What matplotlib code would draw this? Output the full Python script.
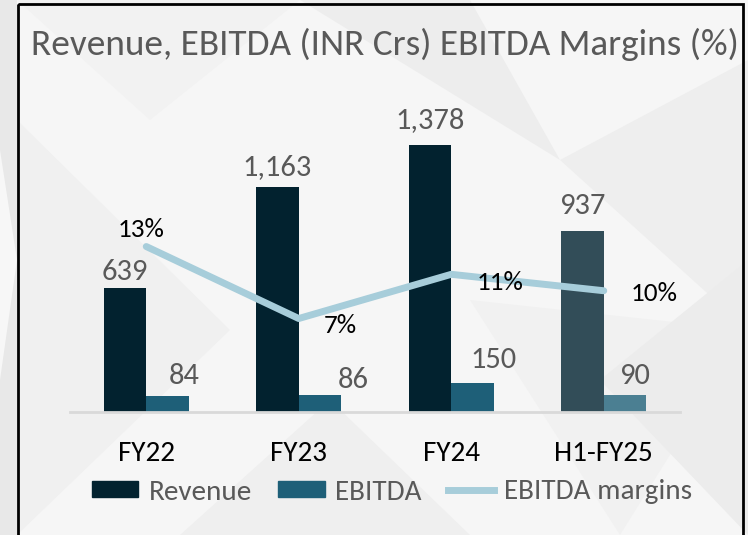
import matplotlib
matplotlib.use("Agg")
import matplotlib.pyplot as plt
from matplotlib import font_manager
from matplotlib.patches import Polygon, Rectangle, Patch
from matplotlib.lines import Line2D
import numpy as np

# data
periods = ["FY22", "FY23", "FY24", "H1-FY25"]
revenue = [639, 1163, 1378, 937]
ebitda = [84, 86, 150, 90]
margins = [13.1, 7.4, 10.9, 9.6]   # EBITDA / Revenue, shown rounded
revenue_text = ["639", "1,163", "1,378", "937"]
ebitda_text = ["84", "86", "150", "90"]
margin_text = ["13%", "7%", "11%", "10%"]

# pick a calibri-like font that is installed
installed = {f.name for f in font_manager.fontManager.ttflist}
fam = "DejaVu Sans"
for cand in ["Carlito", "Liberation Sans Narrow", "Lato", "Open Sans"]:
    if cand in installed:
        fam = cand
        break
plt.rcParams["font.family"] = [fam, "DejaVu Sans"]

W, H = 748, 535
fig = plt.figure(figsize=(W / 100, H / 100), dpi=100)
fig.patch.set_facecolor("#f6f6f6")

def px(x, y):
    return (x / W, 1 - y / H)

# background with a faint triangle pattern, in pixel coordinates
bg = fig.add_axes([0, 0, 1, 1], zorder=-1)
bg.set_xlim(0, W)
bg.set_ylim(H, 0)
bg.axis("off")
tris = [
    ([(17, 120), (230, 330), (17, 535)], "#f0f0f0"),
    ([(300, 0), (470, 0), (560, 160)], "#ededed"),
    ([(560, 160), (748, 60), (748, 330)], "#eeeeee"),
    ([(470, 300), (748, 330), (620, 535)], "#f1f1f1"),
    ([(180, 535), (330, 400), (470, 535)], "#efefef"),
    ([(17, 0), (300, 0), (150, 120)], "#f2f2f2"),
    ([(600, 380), (748, 260), (748, 535)], "#ececec"),
    ([(0, 0), (17, 0), (17, 535), (0, 535)], "#e8e8e8"),
    ([(0, 150), (17, 260), (0, 380)], "#f7f7f7"),
]
for pts, col in tris:
    bg.add_patch(Polygon(pts, closed=True, facecolor=col, edgecolor="none"))
bg.add_patch(Rectangle((18, 4), 725, 560, fill=False, edgecolor="black", linewidth=2))

ax = fig.add_axes([70 / W, 1 - 412 / H, 610 / W, 312 / H])
ax.patch.set_alpha(0)
ax2 = ax.twinx()

x = np.arange(len(periods))
bw = 0.28
rev_cols = ["#02222f", "#02222f", "#02222f", "#324d58"]
ebi_cols = ["#1e5f78", "#1e5f78", "#1e5f78", "#4b7f92"]
ax.bar(x - bw / 2, revenue, bw, color=rev_cols, zorder=2)
ax.bar(x + bw / 2, ebitda, bw, color=ebi_cols, zorder=2)
ax.set_xlim(-0.5, 3.5)
ax.set_ylim(0, 1611)

# nudges of the labels as placed on the slide (points)
rev_dy = [2, 5, 9, 8]
ebi_dx = [12, 24, 15, 7]
ebi_dy = [5, 2, 7, 4]
for i in range(len(periods)):
    ax.annotate(revenue_text[i], (x[i] - bw / 2, revenue[i]), xytext=(0, rev_dy[i]),
                textcoords="offset points", ha="center", va="bottom",
                fontsize=22, color="#595959")
    ax.annotate(ebitda_text[i], (x[i] + bw / 2, ebitda[i]), xytext=(ebi_dx[i], ebi_dy[i]),
                textcoords="offset points", ha="center", va="bottom",
                fontsize=22, color="#595959")

ax2.plot(x, margins, color="#a7cdda", linewidth=5, solid_capstyle="round", zorder=3)
ax2.set_ylim(0, 24.7)
m_off = [(-4, 12), (30, -5), (35, -6), (36, -2)]
for i in range(len(periods)):
    ax2.annotate(margin_text[i], (x[i], margins[i]), xytext=m_off[i],
                 textcoords="offset points", ha="center", va="center",
                 fontsize=19.5, color="black")

for a in (ax, ax2):
    for s in a.spines.values():
        s.set_visible(False)
    a.set_yticks([])
ax.spines["bottom"].set_visible(True)
ax.spines["bottom"].set_color("#d9d9d9")
ax.spines["bottom"].set_linewidth(2)
ax.set_xticks(x)
ax.set_xticklabels(periods, fontsize=21, color="black")
ax.tick_params(axis="x", length=0, pad=21)

fig.text(*px(385, 44), "Revenue, EBITDA (INR Crs) EBITDA Margins (%)",
         ha="center", va="center", fontsize=26.8, color="#595959")

handles = [Patch(color="#02222f", label="Revenue"),
           Patch(color="#1e5f78", label="EBITDA"),
           Line2D([], [], color="#a7cdda", linewidth=5, label="EBITDA margins")]
leg = fig.legend(handles=handles, loc="center", bbox_to_anchor=px(392, 492), ncol=3,
                 frameon=False, fontsize=21, handlelength=1.6, handleheight=0.5,
                 handletextpad=0.35, columnspacing=0.9)
for t in leg.get_texts():
    t.set_color("#595959")

fig.savefig("out.png", dpi=100, facecolor=fig.get_facecolor())
